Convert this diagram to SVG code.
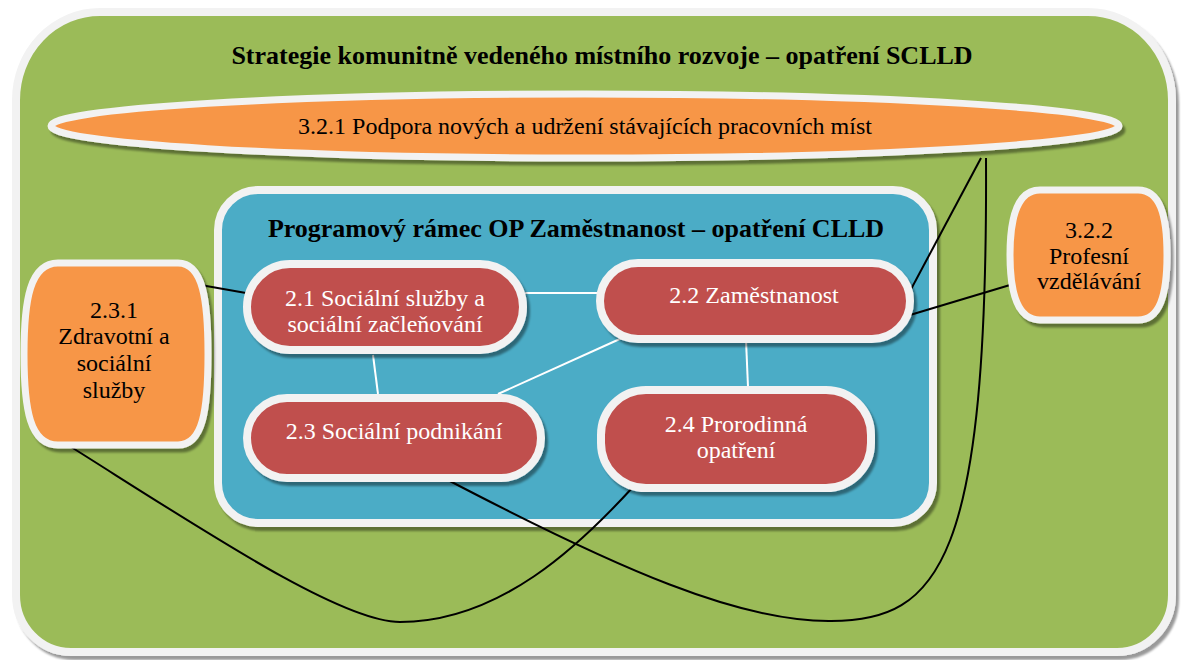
<svg xmlns="http://www.w3.org/2000/svg" width="1184" height="660" viewBox="0 0 1184 660" font-family="'Liberation Serif', 'DejaVu Serif', serif">
<defs>
<filter id="sh" x="-10%" y="-10%" width="130%" height="140%">
<feDropShadow dx="3" dy="4" stdDeviation="1" flood-color="#000" flood-opacity="0.4"/>
</filter>
<style>
text{font-family:'Liberation Serif','DejaVu Serif',serif;text-anchor:middle}
.frame{stroke:#f2f2f2;stroke-width:8}
.red{fill:#c0504d;stroke:#f2f2f2;stroke-width:8}
.org{fill:#f79646;stroke:#f2f2f2;stroke-width:7}
.wt{fill:#ffffff;font-size:24px}
.bt{fill:#000000;font-size:24px}
.hd{fill:#000000;font-size:26px;font-weight:bold}
.wl{stroke:#ffffff;stroke-width:2;fill:none}
.bl{stroke:#000000;stroke-width:2;fill:none}
</style>
</defs>
<rect width="1184" height="660" fill="#ffffff"/>
<g id="sclld">
<path class="frame" filter="url(#sh)" fill="#9bbb59" d="M 16 100 A 84 88 0 0 1 100 12 L 1088 12 A 84 88 0 0 1 1172 100 L 1172 595 A 55 57 0 0 1 1117 652 L 71 652 A 55 57 0 0 1 16 595 Z"/>
<text class="hd" x="602" y="64">Strategie komunitně vedeného místního rozvoje – opatření SCLLD</text>
</g>
<g id="n321">
<ellipse class="org" filter="url(#sh)" cx="585" cy="126" rx="534" ry="32"/>
<text class="bt" x="585" y="134">3.2.1 Podpora nových a udržení stávajících pracovních míst</text>
</g>
<g id="clld">
<rect class="frame" filter="url(#sh)" fill="#4bacc6" x="218" y="190" width="715" height="333" rx="40" ry="40"/>
<text class="hd" x="576" y="237">Programový rámec OP Zaměstnanost – opatření CLLD</text>
</g>
<g id="connectors">
<line class="wl" x1="525" y1="293" x2="597" y2="293"/>
<line class="wl" x1="373" y1="355" x2="378" y2="394"/>
<line class="wl" x1="622" y1="338" x2="498" y2="394"/>
<line class="wl" x1="746" y1="340" x2="748" y2="387"/>
<line class="bl" x1="195" y1="284" x2="246" y2="293"/>
<line class="bl" x1="981" y1="158" x2="909" y2="293"/>
<line class="bl" x1="1010" y1="285" x2="900" y2="318"/>
<path class="bl" d="M 986 158 C 988 560 940 621 831 621 C 740 622 620 570 446 479"/>
<path class="bl" d="M 68 445 C 200 528 340 622 400 622 C 500 622 580 545 633 487"/>
</g>
<g id="n21">
<rect class="red" filter="url(#sh)" x="247" y="264" width="276" height="86" rx="43" ry="43"/>
<text class="wt" x="385" y="306">2.1 Sociální služby a</text>
<text class="wt" x="385" y="332">sociální začleňování</text>
</g>
<g id="n22">
<rect class="red" filter="url(#sh)" x="600" y="263" width="310" height="76" rx="38" ry="38"/>
<text class="wt" x="754" y="303">2.2 Zaměstnanost</text>
</g>
<g id="n23">
<rect class="red" filter="url(#sh)" x="247" y="398" width="294" height="80" rx="40" ry="40"/>
<text class="wt" x="394" y="439">2.3 Sociální podnikání</text>
</g>
<g id="n24">
<rect class="red" filter="url(#sh)" x="601" y="390" width="270" height="98" rx="45" ry="45"/>
<text class="wt" x="736" y="432">2.4 Prorodinná</text>
<text class="wt" x="736" y="458">opatření</text>
</g>
<g id="n231">
<path class="org" filter="url(#sh)" d="M 58 263 L 178 263 C 203 263 208 300 208 354 C 208 410 203 445 178 445 L 58 445 C 30 445 24 410 24 354 C 24 300 30 263 58 263 Z"/>
<text class="bt" x="114" y="318">2.3.1</text>
<text class="bt" x="114" y="344">Zdravotní a</text>
<text class="bt" x="114" y="371">sociální</text>
<text class="bt" x="114" y="398">služby</text>
</g>
<g id="n322">
<path class="org" filter="url(#sh)" d="M 1040 190 L 1138 190 C 1160 190 1167 215 1167 255 C 1167 295 1160 320 1138 320 L 1040 320 C 1018 320 1010 295 1010 255 C 1010 215 1018 190 1040 190 Z"/>
<text class="bt" x="1089" y="238">3.2.2</text>
<text class="bt" x="1089" y="264">Profesní</text>
<text class="bt" x="1089" y="289">vzdělávání</text>
</g>
</svg>
